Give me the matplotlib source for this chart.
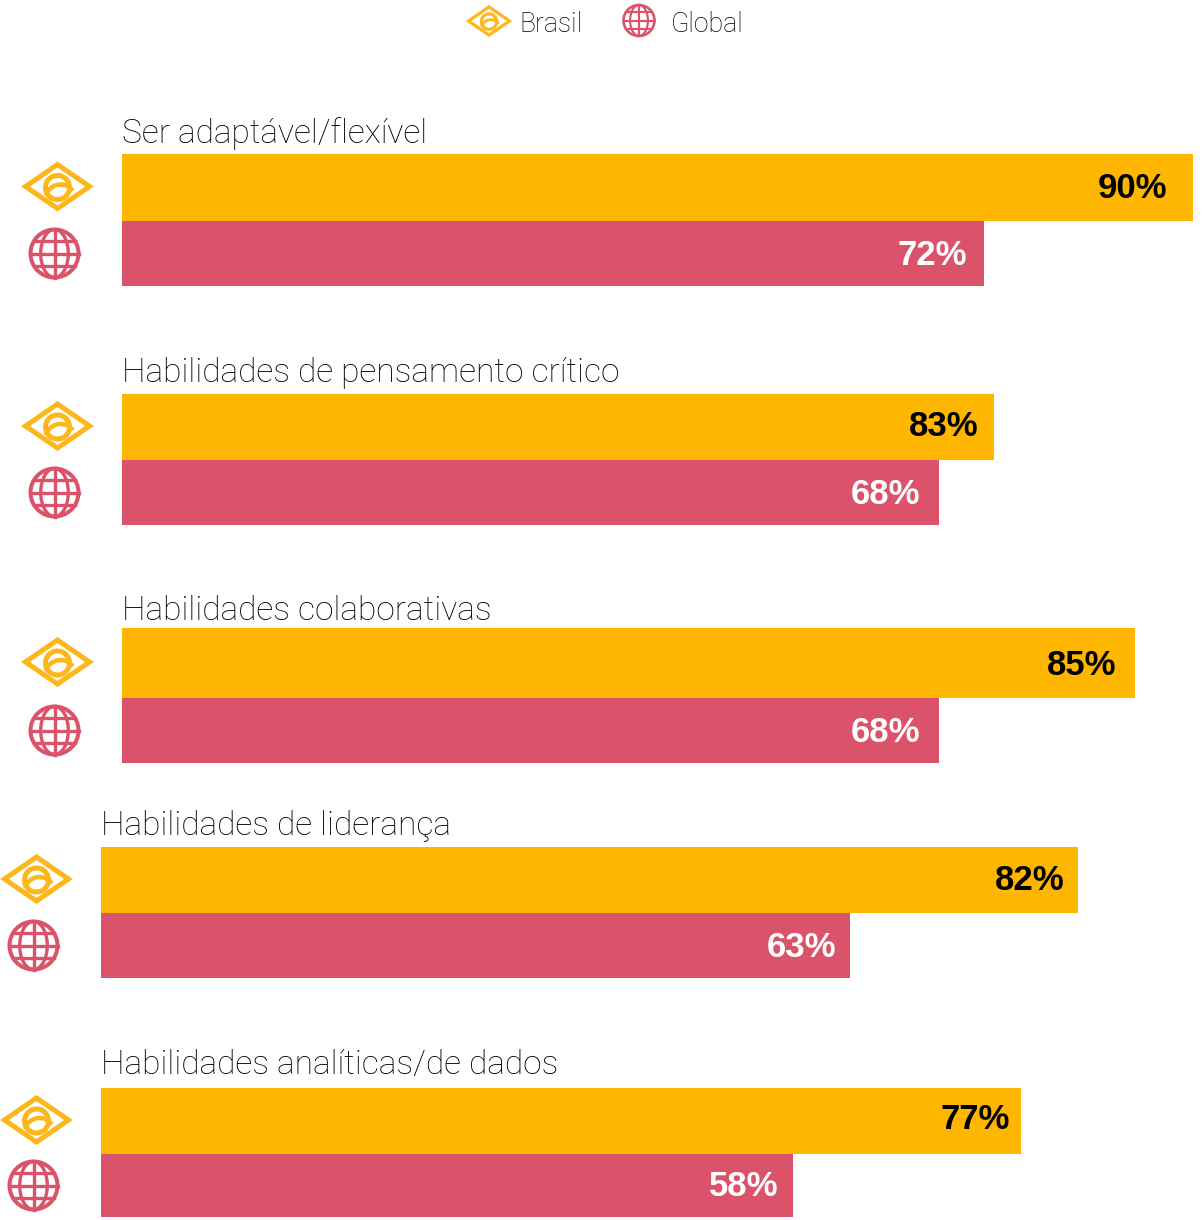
import numpy as np
import matplotlib
matplotlib.use("Agg")
import matplotlib.pyplot as plt
from matplotlib.patches import Polygon, Circle, Ellipse, Arc

plt.rcParams['font.family'] = ['Roboto', 'Liberation Sans', 'DejaVu Sans']

# ---- data ----
categories = ["Ser adaptável/flexível", "Habilidades de pensamento crítico",
              "Habilidades colaborativas", "Habilidades de liderança",
              "Habilidades analíticas/de dados"]
series_names = ["Brasil", "Global"]
brasil_labels = [90, 83, 85, 82, 77]
global_labels = [72, 68, 68, 63, 58]
# drawn lengths (the second Brasil bar is drawn shorter than its label)
brasil_lengths = [89.8, 73.1, 84.9, 81.9, 77.1]
global_lengths = [72.25, 68.5, 68.5, 62.8, 58.0]

# ---- style / layout (pixels) ----
W, H = 1202, 1220
ORANGE = "#FFB600"
RED = "#DB536A"
ICON_OR = "#FDB71A"
PX_PER_PCT = 11.93
lefts = [122, 122, 122, 101, 101]
tops = [154, 394, 628, 847, 1088]
mids = [221, 460, 698, 913, 1154]
bottoms = [286, 525, 763, 978, 1217]
title_y = [134, 373, 611, 826, 1065]
brasil_label_right = [1167, 978, 1116, 1064, 1010]
global_label_right = [967, 920, 920, 836, 778]
brasil_label_y = [186, 424, 663, 878, 1117]
global_label_y = [253, 492, 730, 945, 1184]
LW = 72 / 100  # points per pixel

fig = plt.figure(figsize=(W / 100, H / 100), dpi=100, facecolor="white")
over = fig.add_axes([0, 0, 1, 1], zorder=5)
over.set_xlim(0, W)
over.set_ylim(H, 0)
over.axis("off")
over.patch.set_alpha(0)


def brazil_icon(cx, cy, s=1.0):
    over.add_patch(Polygon([(cx - 32 * s, cy), (cx, cy - 22 * s), (cx + 32 * s, cy), (cx, cy + 22 * s)],
                           closed=True, fill=False, ec=ICON_OR, lw=5 * s * LW, joinstyle="miter"))
    over.add_patch(Circle((cx, cy + 1 * s), 12 * s, fill=False, ec=ICON_OR, lw=5 * s * LW))
    over.add_patch(Arc((cx + 3 * s, cy + 13 * s), 30 * s, 30 * s, theta1=195, theta2=325,
                       ec=ICON_OR, lw=4.5 * s * LW))


def globe_icon(cx, cy, r=24.0):
    lw = r / 7.2 * LW
    over.add_patch(Circle((cx, cy), r, fill=False, ec=RED, lw=lw * 1.2))
    over.add_patch(Ellipse((cx, cy), r * 1.15, r * 2, fill=False, ec=RED, lw=lw))
    over.plot([cx, cx], [cy - r, cy + r], color=RED, lw=lw)
    over.plot([cx - r, cx + r], [cy, cy], color=RED, lw=lw)
    for d in (-0.54, 0.54):
        half = r * np.sqrt(1 - d ** 2)
        over.plot([cx - half, cx + half], [cy + d * r, cy + d * r], color=RED, lw=lw)


for i, cat in enumerate(categories):
    x0 = lefts[i]
    ax = fig.add_axes([x0 / W, 0, PX_PER_PCT * 100 / W, 1])
    ax.set_xlim(0, 100)
    ax.set_ylim(H, 0)
    ax.axis("off")
    ax.patch.set_alpha(0)
    ax.barh((tops[i] + mids[i]) / 2, brasil_lengths[i], height=mids[i] - tops[i], color=ORANGE, lw=0)
    ax.barh((mids[i] + bottoms[i]) / 2, global_lengths[i], height=bottoms[i] - mids[i], color=RED, lw=0)
    for lab, xr, y, col in [
        (brasil_labels[i], brasil_label_right[i], brasil_label_y[i], "black"),
        (global_labels[i], global_label_right[i], global_label_y[i], "white"),
    ]:
        over.text(xr, y + 12, f"{lab}%", ha="right", va="baseline", color=col,
                  fontsize=25, fontweight="bold", family=["Liberation Sans", "DejaVu Sans"])
    over.text(x0, title_y[i], cat, ha="left", va="center", fontsize=24.1, color="#000000",
              fontweight="light")
    icx = x0 - 64.5
    brazil_icon(icx, (tops[i] + mids[i]) / 2 - 1)
    globe_icon(icx - 3, (mids[i] + bottoms[i]) / 2)

# legend
brazil_icon(489, 21, 0.64)
over.text(519, 24, series_names[0], ha="left", va="center", fontsize=19.1, color="#000000", fontweight="light")
globe_icon(639, 20.5, 15.5)
over.text(671, 24, series_names[1], ha="left", va="center", fontsize=19.3, color="#000000", fontweight="light")

fig.savefig("out.png", dpi=100, facecolor="white")
